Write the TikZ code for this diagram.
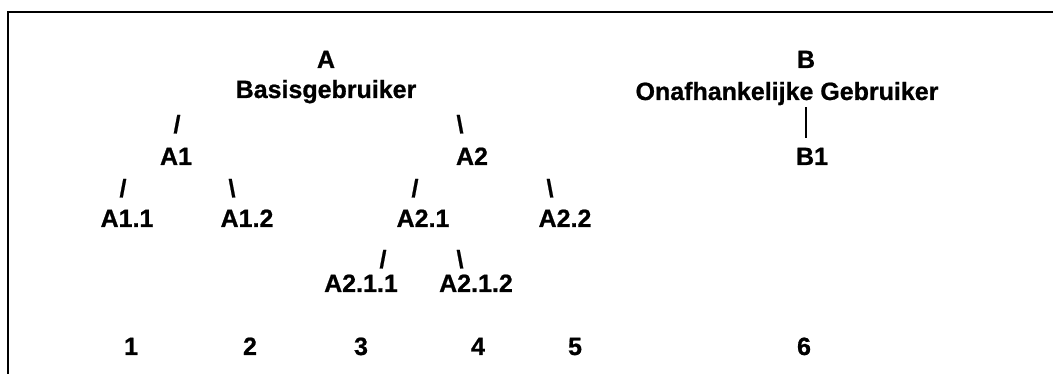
\documentclass[tikz,border=0pt]{standalone}
\usepackage{fontspec}
\setmainfont{Liberation Sans}[BoldFeatures={FakeBold=0.8}]
\usepackage{tikz}
\usetikzlibrary{positioning}
\tikzset{
    tree-text/.style = {inner sep=0pt, anchor=base, font=\fontsize{25}{30}\selectfont\bfseries},
    tree-slash/.style = {tree-text},
    frame-line/.style = {line width=2pt},
    tree-bar/.style = {line width=2pt, shorten <=2pt, shorten >=10pt},
}

\begin{document}
\begin{tikzpicture}[x=1pt,y=-1pt]
\useasboundingbox (0,0) rectangle (1053,374);
\draw[frame-line] (8,374) -- (8,12) -- (1053,12);

% tree A
\node[tree-text] (a) at (326,68) {A};
\node[tree-text] (a-name) at (326,98) {Basisgebruiker};
\node[tree-slash] (a-left) at (177,133) {/};
\node[tree-slash] (a-right) at (460,133) {\textbackslash};
\node[tree-text] (a1) at (176,165) {A1};
\node[tree-text] (a2) at (472,165) {A2};
\node[tree-slash] (a1-left) at (123,197) {/};
\node[tree-slash] (a1-right) at (232,197) {\textbackslash};
\node[tree-slash] (a2-left) at (415,197) {/};
\node[tree-slash] (a2-right) at (550,197) {\textbackslash};
\node[tree-text] (a11) at (127,227) {A1.1};
\node[tree-text] (a12) at (247,227) {A1.2};
\node[tree-text] (a21) at (423,227) {A2.1};
\node[tree-text] (a22) at (565,227) {A2.2};
\node[tree-slash] (a21-left) at (383,268) {/};
\node[tree-slash] (a21-right) at (460,268) {\textbackslash};
\node[tree-text] (a211) at (361,292) {A2.1.1};
\node[tree-text] (a212) at (476,292) {A2.1.2};

% tree B
\node[tree-text] (b) at (806,68) {B};
\node[tree-text] (b-name) at (787,100) {Onafhankelijke Gebruiker};
\node[tree-text] (b1) at (812,165) {B1};
\draw[tree-bar] (b-name.south -| b) -- (b1.north -| b);

% leaves
\node[tree-text] (n1) at (131,355) {1};
\node[tree-text] (n2) at (250,355) {2};
\node[tree-text] (n3) at (361,355) {3};
\node[tree-text] (n4) at (478,355) {4};
\node[tree-text] (n5) at (575,355) {5};
\node[tree-text] (n6) at (804,355) {6};
\end{tikzpicture}
\end{document}
